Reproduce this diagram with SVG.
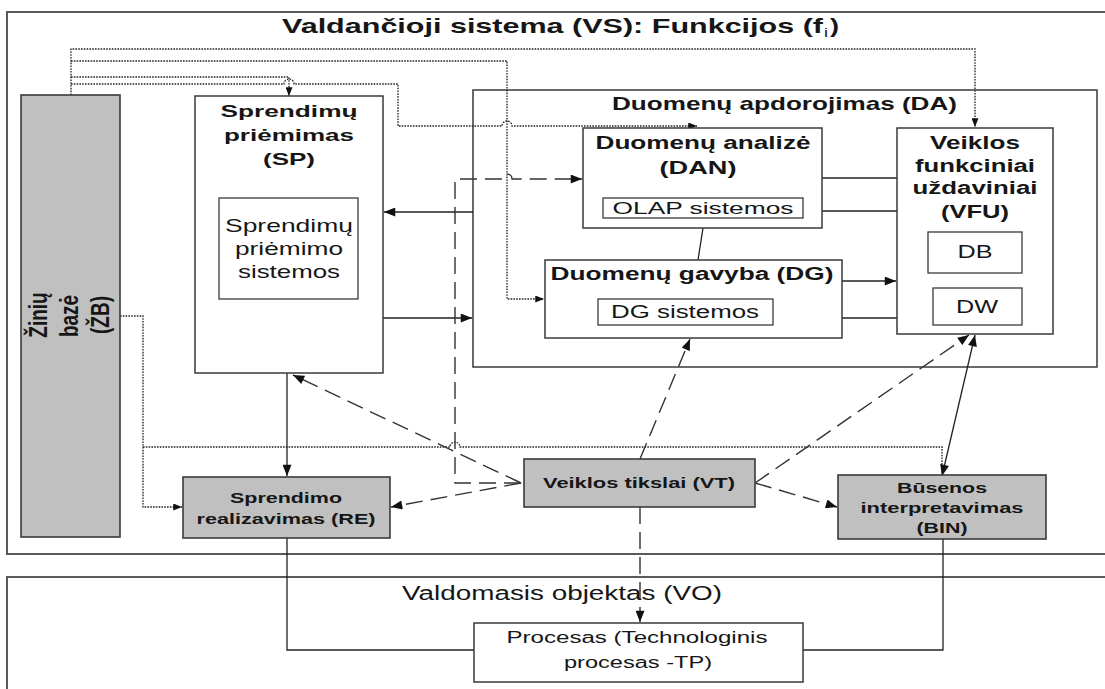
<svg xmlns="http://www.w3.org/2000/svg" width="1105" height="689" viewBox="0 0 1105 689">
  <defs>
    <style>
      .frame { fill: #ffffff; stroke: #5a5a5a; stroke-width: 2; }
      .box { fill: #ffffff; stroke: #3a3a3a; stroke-width: 1.5; }
      .gbox { fill: #c0c0c0; stroke: #3a3a3a; stroke-width: 1.6; }
      .sub { fill: #ffffff; stroke: #3a3a3a; stroke-width: 1.3; }
      .solid { fill: none; stroke: #222; stroke-width: 1.3; }
      .dash { fill: none; stroke: #333; stroke-width: 1.4; stroke-dasharray: 17 8; }
      .dot { fill: none; stroke: #222; stroke-width: 1.3; stroke-dasharray: 1.6 1.2; }
      text { font-family: "Liberation Sans", Arial, sans-serif; fill: #161616; }
      .b { font-weight: bold; }
      .c { text-anchor: middle; }
    </style>
    <marker id="ah" viewBox="0 0 10 8" refX="10" refY="4" markerWidth="12" markerHeight="9" markerUnits="userSpaceOnUse" orient="auto-start-reverse">
      <path d="M0,0 L10,4 L0,8 z" fill="#111"/>
    </marker>
    <marker id="ahs" viewBox="0 0 10 8" refX="10" refY="4" markerWidth="9" markerHeight="7" markerUnits="userSpaceOnUse" orient="auto">
      <path d="M0,0 L10,4 L0,8 z" fill="#111"/>
    </marker>
  </defs>

  <rect width="1105" height="689" fill="#ffffff"/>

  <!-- outer frames -->
  <g id="vs">
    <rect class="frame" x="7" y="12" width="1110" height="542"/>
    <text class="b" x="282" y="33" font-size="21" textLength="541" lengthAdjust="spacingAndGlyphs">Valdančioji sistema (VS): Funkcijos (f</text>
    <text x="824" y="37" font-size="12" textLength="4" lengthAdjust="spacingAndGlyphs">i</text>
    <text class="b" x="830" y="33" font-size="21" textLength="9" lengthAdjust="spacingAndGlyphs">)</text>
  </g>
  <g id="vo">
    <rect class="frame" x="7" y="577" width="1110" height="130"/>
    <text class="c" x="562" y="600" font-size="20" textLength="320" lengthAdjust="spacingAndGlyphs">Valdomasis objektas (VO)</text>
  </g>

  <!-- Data processing container -->
  <g id="da">
    <rect class="box" x="473" y="90" width="624" height="277"/>
    <text class="b" x="612" y="110" font-size="19" textLength="345" lengthAdjust="spacingAndGlyphs">Duomenų apdorojimas (DA)</text>
  </g>

  <!-- connectors -->
  <g id="connectors">
    <!-- knowledge base feeds (dotted) -->
    <path class="dot" d="M71,95 V49 H975 V127" marker-end="url(#ahs)"/>
    <path class="dot" d="M71,61 H507 V299 H544" marker-end="url(#ahs)"/>
    <path class="dot" d="M71,77 H289 V96" marker-end="url(#ahs)"/>
    <path class="dot" d="M71,84 H284 A5,5 0 0 1 294,84 H398 V126 H502 A5,5 0 0 1 512,126 H697" marker-end="url(#ahs)"/>
    <path class="dot" d="M120,316 H143 V507 H182" marker-end="url(#ahs)"/>
    <path class="dot" d="M143,447 H450 A5,5 0 0 1 460,447 H942 V475"/>

    <!-- solid flows -->
    <path class="solid" d="M473,212 H384" marker-end="url(#ah)"/>
    <path class="solid" d="M383,318 H472" marker-end="url(#ah)"/>
    <path class="solid" d="M287,373 V476" marker-end="url(#ah)"/>
    <path class="solid" d="M703,228 L698,260"/>
    <path class="solid" d="M822,178 H897"/>
    <path class="solid" d="M822,211 H901"/>
    <path class="solid" d="M842,281 H896" marker-end="url(#ah)"/>
    <path class="solid" d="M842,318 H897"/>
    <path class="solid" d="M942,476 L975,335" marker-start="url(#ah)" marker-end="url(#ah)"/>
    <path class="solid" d="M287,538 V650 H474"/>
    <path class="solid" d="M943,539 V650 H803"/>

    <!-- goal links (dashed) -->
    <path class="dash" d="M521,483 L293,375" marker-end="url(#ah)"/>
    <path class="dash" d="M521,483 L391,507" marker-end="url(#ah)"/>
    <path class="dash" d="M521,483 H455 V179 H502 A5,5 0 0 1 512,179 H582" marker-end="url(#ah)"/>
    <path class="dash" d="M640,459 L690,339" marker-end="url(#ah)"/>
    <path class="dash" d="M755,483 L969,335" marker-end="url(#ah)"/>
    <path class="dash" d="M755,483 L837,507" marker-end="url(#ah)"/>
    <path class="dash" d="M640,507 V622" marker-end="url(#ah)"/>
  </g>

  <!-- Knowledge base -->
  <g id="zb">
    <rect class="gbox" x="21" y="95" width="99" height="442"/>
    <text class="b c" font-size="19" transform="translate(47,315) scale(1.35,1) rotate(-90)">Žinių</text>
    <text class="b c" font-size="19" transform="translate(78,316) scale(1.35,1) rotate(-90)">bazė</text>
    <text class="b c" font-size="19" transform="translate(109,315) scale(1.35,1) rotate(-90)">(ŽB)</text>
  </g>

  <!-- Decision making -->
  <g id="sp">
    <rect class="box" x="195" y="96" width="188" height="277"/>
    <text class="b c" x="289" y="117" font-size="17" textLength="137" lengthAdjust="spacingAndGlyphs">Sprendimų</text>
    <text class="b c" x="289" y="141" font-size="17" textLength="130" lengthAdjust="spacingAndGlyphs">priėmimas</text>
    <text class="b c" x="289" y="165" font-size="17" textLength="52" lengthAdjust="spacingAndGlyphs">(SP)</text>
  </g>
  <g id="sps">
    <rect class="sub" x="219" y="198" width="139" height="101"/>
    <text class="c" x="289" y="232" font-size="19" textLength="128" lengthAdjust="spacingAndGlyphs">Sprendimų</text>
    <text class="c" x="289" y="255" font-size="19" textLength="108" lengthAdjust="spacingAndGlyphs">priėmimo</text>
    <text class="c" x="289" y="278" font-size="19" textLength="102" lengthAdjust="spacingAndGlyphs">sistemos</text>
  </g>

  <!-- Data analysis -->
  <g id="dan">
    <rect class="box" x="583" y="128" width="239" height="100"/>
    <text class="b c" x="703" y="149" font-size="18" textLength="215" lengthAdjust="spacingAndGlyphs">Duomenų analizė</text>
    <text class="b c" x="698" y="174" font-size="18" textLength="77" lengthAdjust="spacingAndGlyphs">(DAN)</text>
  </g>
  <g id="olap">
    <rect class="sub" x="603" y="198" width="200" height="20"/>
    <text class="c" x="703" y="214" font-size="17" textLength="181" lengthAdjust="spacingAndGlyphs">OLAP sistemos</text>
  </g>

  <!-- Data mining -->
  <g id="dg">
    <rect class="box" x="545" y="260" width="297" height="78"/>
    <text class="b c" x="692" y="280" font-size="18" textLength="283" lengthAdjust="spacingAndGlyphs">Duomenų gavyba (DG)</text>
  </g>
  <g id="dgs">
    <rect class="sub" x="598" y="299" width="175" height="26"/>
    <text class="c" x="685" y="318" font-size="18" textLength="148" lengthAdjust="spacingAndGlyphs">DG sistemos</text>
  </g>

  <!-- Functional tasks -->
  <g id="vfu">
    <rect class="box" x="897" y="128" width="156" height="206"/>
    <text class="b c" x="975" y="149" font-size="18" textLength="90" lengthAdjust="spacingAndGlyphs">Veiklos</text>
    <text class="b c" x="975" y="172" font-size="18" textLength="120" lengthAdjust="spacingAndGlyphs">funkciniai</text>
    <text class="b c" x="975" y="194" font-size="18" textLength="125" lengthAdjust="spacingAndGlyphs">uždaviniai</text>
    <text class="b c" x="975" y="218" font-size="18" textLength="68" lengthAdjust="spacingAndGlyphs">(VFU)</text>
  </g>
  <g id="db">
    <rect class="sub" x="928" y="232" width="94" height="41"/>
    <text class="c" x="975" y="258" font-size="19" textLength="35" lengthAdjust="spacingAndGlyphs">DB</text>
  </g>
  <g id="dw">
    <rect class="sub" x="933" y="288" width="89" height="37"/>
    <text class="c" x="977" y="313" font-size="19" textLength="42" lengthAdjust="spacingAndGlyphs">DW</text>
  </g>

  <!-- Decision implementation -->
  <g id="re">
    <rect class="gbox" x="183" y="477" width="207" height="61"/>
    <text class="b c" x="286" y="503" font-size="15" textLength="112" lengthAdjust="spacingAndGlyphs">Sprendimo</text>
    <text class="b c" x="286" y="524" font-size="15" textLength="179" lengthAdjust="spacingAndGlyphs">realizavimas (RE)</text>
  </g>

  <!-- Business goals -->
  <g id="vt">
    <rect class="gbox" x="524" y="459" width="231" height="48"/>
    <text class="b c" x="639" y="488" font-size="15" textLength="192" lengthAdjust="spacingAndGlyphs">Veiklos tikslai (VT)</text>
  </g>

  <!-- State interpretation -->
  <g id="bin">
    <rect class="gbox" x="838" y="475" width="208" height="64"/>
    <text class="b c" x="942" y="493" font-size="15" textLength="90" lengthAdjust="spacingAndGlyphs">Būsenos</text>
    <text class="b c" x="942" y="513" font-size="15" textLength="163" lengthAdjust="spacingAndGlyphs">interpretavimas</text>
    <text class="b c" x="942" y="533" font-size="15" textLength="51" lengthAdjust="spacingAndGlyphs">(BIN)</text>
  </g>

  <!-- Process -->
  <g id="tp">
    <rect class="box" x="474" y="623" width="329" height="59"/>
    <text class="c" x="637" y="643" font-size="16" textLength="261" lengthAdjust="spacingAndGlyphs">Procesas (Technologinis</text>
    <text class="c" x="638" y="668" font-size="16" textLength="148" lengthAdjust="spacingAndGlyphs">procesas -TP)</text>
  </g>
</svg>
